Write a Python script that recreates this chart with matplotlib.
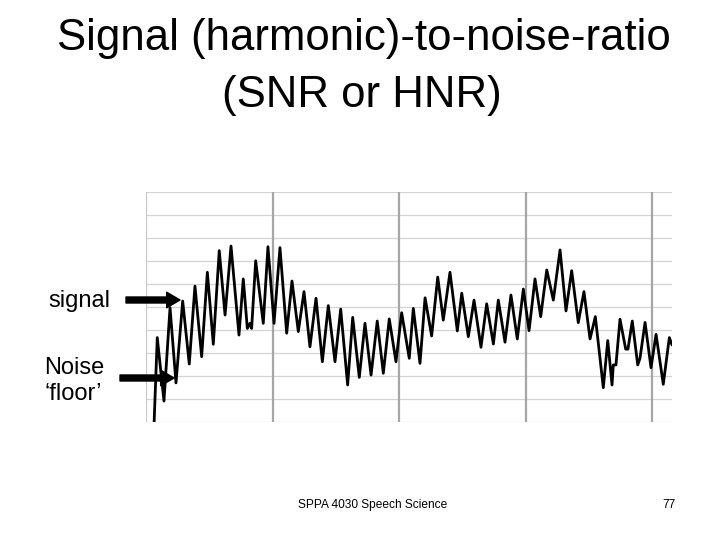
import matplotlib
matplotlib.use("Agg")
import matplotlib.pyplot as plt

plt.rcParams['font.family'] = ['Liberation Sans', 'DejaVu Sans']

# waveform turning points (time in ms, amplitude in grid units)
time_ms = [0.63, 0.89, 1.42, 1.90, 2.37, 2.90, 3.42, 3.87, 4.40, 4.85, 5.32, 5.79,
           6.25, 6.72, 7.35, 7.69, 8.01, 8.22, 8.35, 8.67, 9.27, 9.64, 10.12, 10.59,
           11.12, 11.54, 12.04, 12.49, 12.96, 13.44, 13.94, 14.41, 14.94, 15.39, 15.94,
           16.34, 16.86, 17.31, 17.79, 18.28, 18.76, 19.23, 19.76, 20.21, 20.81, 21.13,
           21.66, 22.06, 22.58, 23.06, 23.50, 24.03, 24.61, 24.96, 25.48, 25.93, 26.48,
           26.93, 27.46, 27.85, 28.38, 28.85, 29.35, 29.83, 30.28, 30.75, 31.20, 31.68,
           32.20, 32.73, 33.20, 33.65, 34.17, 34.62, 35.10, 35.52, 36.15, 36.50, 36.84,
           36.94, 37.15, 37.47, 37.92, 38.10, 38.44, 38.87, 39.05, 39.45, 39.92, 40.32,
           40.89, 41.37, 41.58]
amplitude = [-5.2, -1.33, -4.09, -0.03, -3.30, 0.26, -2.48, 0.91, -2.16, 1.51, -1.62, 2.45,
             -0.35, 2.65, -1.22, 1.22, -0.93, -0.71, -0.93, 2.01, -0.71, 2.62, -0.71, 2.58,
             -1.14, 1.13, -1.07, 0.67, -1.73, 0.38, -2.38, 0.06, -2.38, -0.09, -3.39,
             -0.45, -3.06, -0.71, -2.96, -0.61, -2.88, -0.52, -2.38, -0.25, -2.23, -0.06,
             -2.45, 0.40, -1.26, 1.30, -0.57, 1.51, -1.04, 0.60, -1.29, 0.30, -1.75,
             0.14, -1.61, 0.30, -1.53, 0.52, -1.39, 0.78, -1.03, 1.22, -0.42, 1.61,
             0.30, 2.48, -0.17, 1.58, -0.68, 0.67, -1.39, -0.42, -3.51, -1.46, -3.39,
             -2.52, -2.52, -0.53, -1.83, -1.83, -0.61, -2.52, -2.23, -0.67, -2.64, -1.19,
             -3.36, -1.33, -1.65]

h_grid = [-5, -4, -3, -2, -1, 0, 1, 2, 3, 4, 5]
v_grid = [0, 10, 20, 30, 40]

fig = plt.figure(figsize=(7.2, 5.4), dpi=100)
ax = fig.add_axes([146 / 720, 118 / 540, 526 / 720, 230 / 540])

for y in h_grid:
    ax.axhline(y, color='#d4d4d4', lw=0.9, zorder=1)
for x in v_grid:
    c = '#c8c8c8' if x == 0 else '#a6a6a6'
    ax.axvline(x, color=c, lw=1.6, zorder=1)

ax.plot(time_ms, amplitude, color='black', lw=2.0, zorder=3,
        solid_joinstyle='round', solid_capstyle='round')
ax.set_xlim(0, 41.58)
ax.set_ylim(-5, 5)
ax.axis('off')

fig.text(0.506, 1 - 50 / 540, 'Signal (harmonic)-to-noise-ratio', ha='center',
         va='baseline', fontsize=31.5)
fig.text(0.502, 1 - 107 / 540, '(SNR or HNR)', ha='center', va='baseline', fontsize=31.5)

fig.text(48 / 720, 1 - 307 / 540, 'signal', ha='left', va='baseline', fontsize=17)
fig.text(44 / 720, 1 - 374 / 540, 'Noise', ha='left', va='baseline', fontsize=17)
fig.text(44 / 720, 1 - 400 / 540, '\u2018floor\u2019', ha='left', va='baseline', fontsize=17)

arrow = dict(arrowstyle='simple,head_length=0.6,head_width=0.7,tail_width=0.27',
             color='black', mutation_scale=16, shrinkA=0, shrinkB=0)
ax.annotate('', xy=(180 / 720, 1 - 300 / 540), xytext=(126 / 720, 1 - 300 / 540),
            xycoords='figure fraction', textcoords='figure fraction', arrowprops=arrow,
            annotation_clip=False)
ax.annotate('', xy=(174 / 720, 1 - 378 / 540), xytext=(120 / 720, 1 - 378 / 540),
            xycoords='figure fraction', textcoords='figure fraction', arrowprops=arrow,
            annotation_clip=False)

fig.text(373 / 720, 1 - 508 / 540, 'SPPA 4030 Speech Science', ha='center',
         va='baseline', fontsize=8.6)
fig.text(669 / 720, 1 - 508 / 540, '77', ha='center', va='baseline', fontsize=8.6)

fig.savefig('out.png', dpi=100)
